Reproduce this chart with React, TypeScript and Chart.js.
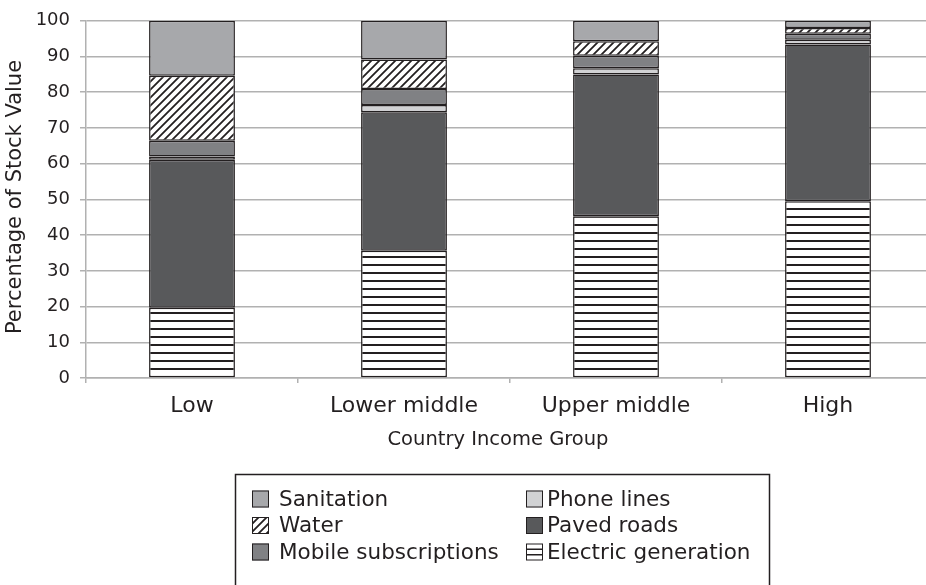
import React, { useEffect, useRef } from "react";
import { Chart, registerables } from "chart.js";

Chart.register(...registerables);

const categories = ["Low", "Lower middle", "Upper middle", "High"];
const electricGeneration = [19.7, 35.6, 45.3, 49.5];
const pavedRoads = [41.4, 38.8, 39.7, 43.9];
const phoneLines = [0.9, 2.0, 1.7, 1.3];
const mobileSubscriptions = [4.4, 4.5, 3.5, 1.7];
const water = [18.2, 8.3, 4.1, 1.6];
const sanitation = [15.4, 10.8, 5.7, 2.0];
const yTicks = [0, 10, 20, 30, 40, 50, 60, 70, 80, 90, 100];

const FONT = "'DejaVu Sans', sans-serif";
const INK = "#231f20";
const GRID = "#b1b1b1";

function stripePattern(): CanvasPattern | string {
  const c = document.createElement("canvas");
  c.width = 8;
  c.height = 8;
  const g = c.getContext("2d");
  if (!g) return "#fff";
  g.fillStyle = "#ffffff";
  g.fillRect(0, 0, 8, 8);
  g.fillStyle = INK;
  g.fillRect(0, 0, 8, 2);
  return g.createPattern(c, "repeat") || "#fff";
}

function hatchPattern(): CanvasPattern | string {
  const c = document.createElement("canvas");
  c.width = 8;
  c.height = 8;
  const g = c.getContext("2d");
  if (!g) return "#fff";
  g.fillStyle = "#ffffff";
  g.fillRect(0, 0, 8, 8);
  g.strokeStyle = INK;
  g.lineWidth = 1.8;
  g.beginPath();
  g.moveTo(0, 8);
  g.lineTo(8, 0);
  g.moveTo(-2, 2);
  g.lineTo(2, -2);
  g.moveTo(6, 10);
  g.lineTo(10, 6);
  g.stroke();
  return g.createPattern(c, "repeat") || "#fff";
}

export default function App() {
  const ref = useRef<HTMLCanvasElement | null>(null);

  useEffect(() => {
    const canvas = ref.current;
    if (!canvas) return;
    const stripes = stripePattern();
    const hatch = hatchPattern();

    const series = [
      { label: "Electric generation", data: electricGeneration, bg: stripes },
      { label: "Paved roads", data: pavedRoads, bg: "#58595b" },
      { label: "Phone lines", data: phoneLines, bg: "#d1d2d4" },
      { label: "Mobile subscriptions", data: mobileSubscriptions, bg: "#808184" },
      { label: "Water", data: water, bg: hatch },
      { label: "Sanitation", data: sanitation, bg: "#a7a8ab" },
    ];

    const legendOrder = [
      ["Sanitation", "Phone lines"],
      ["Water", "Paved roads"],
      ["Mobile subscriptions", "Electric generation"],
    ];

    const titlesAndLegend = {
      id: "titlesAndLegend",
      afterDraw(chart: any) {
        const ctx = chart.ctx as CanvasRenderingContext2D;
        ctx.save();
        ctx.fillStyle = INK;
        // x axis title
        ctx.font = `19.5px ${FONT}`;
        ctx.textAlign = "center";
        ctx.textBaseline = "middle";
        ctx.fillText("Country Income Group", 498, 440);
        // y axis title
        ctx.save();
        ctx.translate(16, 197);
        ctx.rotate(-Math.PI / 2);
        ctx.font = `21px ${FONT}`;
        ctx.fillText("Percentage of Stock Value", 0, 0);
        ctx.restore();

        // legend box
        ctx.strokeStyle = INK;
        ctx.lineWidth = 1.5;
        ctx.strokeRect(235.5, 474.5, 534, 200);

        const colX = [252, 526];
        const rowY = [499, 525.5, 552];
        const sz = 17;
        ctx.font = `21.5px ${FONT}`;
        ctx.textAlign = "left";
        ctx.textBaseline = "middle";
        legendOrder.forEach((row, ri) => {
          row.forEach((name, ci) => {
            const s = series.find((d) => d.label === name);
            if (!s) return;
            const x = colX[ci];
            const y = rowY[ri] - sz / 2;
            if (name === "Electric generation") {
              ctx.fillStyle = "#fff";
              ctx.fillRect(x, y, sz, sz);
              ctx.fillStyle = INK;
              ctx.fillRect(x, y + 5, sz, 1.5);
              ctx.fillRect(x, y + 10.5, sz, 1.5);
            } else {
              ctx.fillStyle = s.bg as any;
              ctx.fillRect(x, y, sz, sz);
            }
            ctx.strokeStyle = INK;
            ctx.lineWidth = 1;
            ctx.strokeRect(x + 0.5, y + 0.5, sz - 1, sz - 1);
            ctx.fillStyle = INK;
            ctx.fillText(name, ci === 0 ? 279 : 547, rowY[ri] + 1);
          });
        });
        ctx.restore();
      },
    };

    const chart = new Chart(canvas, {
      type: "bar",
      data: {
        labels: categories,
        datasets: series.map((s) => ({
          label: s.label,
          data: s.data,
          backgroundColor: s.bg as any,
          borderColor: INK,
          borderWidth: 1.5,
          borderSkipped: false,
          barPercentage: 0.405,
          categoryPercentage: 1,
        })),
      },
      options: {
        responsive: false,
        animation: false,
        devicePixelRatio: 1,
        layout: { padding: { left: 0, top: 17, right: 6, bottom: 0 } },
        plugins: {
          legend: { display: false },
          tooltip: { enabled: false },
          title: { display: false },
        },
        scales: {
          x: {
            stacked: true,
            afterFit: (scale: any) => {
              scale.height = 207;
            },
            grid: {
              drawOnChartArea: false,
              drawTicks: true,
              tickLength: 5,
              color: GRID,
              lineWidth: 1.5,
              offset: true,
            },
            border: { color: GRID, width: 1.5 },
            ticks: {
              color: INK,
              font: { family: FONT, size: 22 },
              padding: 10,
              maxRotation: 0,
            },
          },
          y: {
            stacked: true,
            min: 0,
            max: 100,
            afterFit: (scale: any) => {
              scale.width = 86;
            },
            afterBuildTicks: (scale: any) => {
              scale.ticks = yTicks.map((v) => ({ value: v }));
            },
            grid: {
              color: GRID,
              lineWidth: 1.5,
              drawTicks: true,
              tickLength: 6,
            },
            border: { color: GRID, width: 1.5 },
            ticks: {
              color: INK,
              font: { family: FONT, size: 18 },
              padding: 10,
            },
          },
        },
      },
      plugins: [titlesAndLegend],
    });

    return () => chart.destroy();
  }, []);

  return (
    <div
      style={{
        position: "fixed",
        left: 0,
        top: 0,
        width: 926,
        height: 585,
        overflow: "hidden",
        background: "#ffffff",
      }}
    >
      <canvas ref={ref} width={940} height={585} style={{ display: "block" }} />
    </div>
  );
}
